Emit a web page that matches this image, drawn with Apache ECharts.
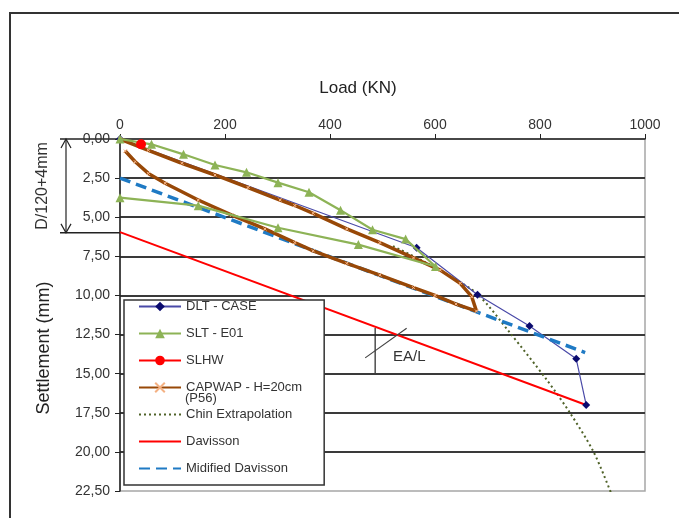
<!DOCTYPE html>
<html lang="en">
<head>
<meta charset="UTF-8">
<title>Load - Settlement</title>
<script src="https://cdn.jsdelivr.net/npm/echarts@6/dist/echarts.min.js"></script>
<style>
    html, body { margin: 0; padding: 0; background: #fff; }
    #chart { width: 679px; height: 518px; }
</style>
</head>
<body>
<div id="chart"></div>
<script>
// [load (KN), settlement (mm)]
let dltCase = [[0, 0], [565, 6.95], [681, 9.95], [780, 11.96], [869, 14.05], [888, 17.0]];
let sltE01 = [[0, 0], [60, 0.34], [121, 0.98], [181, 1.66], [241, 2.13], [301, 2.79], [360, 3.4],
    [420, 4.55], [481, 5.8], [544, 6.4], [601, 8.15], [454, 6.75], [301, 5.67], [149, 4.26], [0, 3.75]];
let slhw = [[40, 0.33]];
let capwap = [[0, 0], [54, 0.72], [118, 1.55], [181, 2.3], [244, 3.1], [305, 3.9], [333, 4.25], [368, 4.75],
    [432, 5.75], [495, 6.62], [559, 7.6], [610, 8.38], [648, 9.23], [670, 10.08], [679, 11.0],
    [640, 10.55], [600, 10.0], [559, 9.5], [495, 8.7], [432, 7.95], [368, 7.15], [333, 6.62],
    [276, 5.75], [213, 4.86], [149, 3.9], [86, 2.83], [54, 2.2], [29, 1.45], [10, 0.77]];
let chin = [[520, 6.85], [577, 7.8], [630, 8.8], [682, 9.95],
    [743, 12.4], [813, 15.4], [857, 17.5], [902, 20.0], [935, 22.6]];
let davisson = [[0, 5.95], [888, 17.0]];
let modDavisson = [[0, 2.5], [886, 13.65]];

// annotations
let dimSettle = 6.0;          // D/120+4mm
let eaVert = [[486, 12.08], [486, 14.96]];
let eaDiag = [[467, 13.99], [546, 12.1]];
let eaText = [551, 13.94];

let font = 'Liberation Sans, Arial, sans-serif';

let chart = echarts.init(document.getElementById('chart'));

let option = {
    animation: false,
    grid: {
        left: 120, top: 139, width: 525, height: 352,
        show: true, borderColor: '#a6a6a6', borderWidth: 1.5
    },
    legend: {
        orient: 'vertical',
        left: 124, top: 300,
        padding: [0, 22, 10, 14],
        itemWidth: 42, itemHeight: 12, itemGap: 14,
        backgroundColor: '#fff',
        borderColor: '#333', borderWidth: 1.5,
        textStyle: {fontFamily: font, fontSize: 13, color: '#333'},
        data: ['DLT - CASE', 'SLT - E01', 'SLHW', 'CAPWAP - H=20cm', 'Chin Extrapolation', 'Davisson', 'Midified Davisson']
    },
    xAxis: {
        type: 'value', position: 'top',
        min: 0, max: 1000, interval: 200,
        axisLine: {show: true, lineStyle: {color: '#222', width: 1.5}},
        axisTick: {show: true, length: 5, lineStyle: {color: '#222'}},
        axisLabel: {fontFamily: font, fontSize: 14, color: '#333', margin: 7,
            formatter: function (v) { return String(v); }},
        splitLine: {show: false}
    },
    yAxis: {
        type: 'value', inverse: true,
        min: 0, max: 22.5, interval: 2.5,
        axisLine: {show: true, lineStyle: {color: '#222', width: 1.5}},
        axisTick: {show: true, length: 5, lineStyle: {color: '#222'}},
        axisLabel: {
            fontFamily: font, fontSize: 14, color: '#333', margin: 10,
            formatter: function (v) { return v.toFixed(2).replace('.', ','); }
        },
        splitLine: {show: true, showMinLine: false, showMaxLine: false, lineStyle: {color: '#3a3a3a', width: 2}}
    },
    series: [
        {
            name: 'DLT - CASE', type: 'line', data: dltCase, z: 3,
            symbol: 'diamond', symbolSize: 8,
            lineStyle: {color: '#4a4aa8', width: 1.2},
            itemStyle: {color: '#0a0a6e'}
        },
        {
            name: 'SLT - E01', type: 'line', data: sltE01, z: 5,
            symbol: 'triangle', symbolSize: 9,
            lineStyle: {color: '#8db356', width: 2.2},
            itemStyle: {color: '#8db356'}
        },
        {
            name: 'SLHW', type: 'line', data: slhw, z: 7,
            symbol: 'circle', symbolSize: 10,
            lineStyle: {color: '#ff0000', width: 4},
            itemStyle: {color: '#ff0000'}
        },
        {
            name: 'CAPWAP - H=20cm', type: 'line', data: capwap, z: 4,
            symbol: 'path://M0,0L10,10M10,0L0,10Z', symbolSize: 3,
            lineStyle: {color: '#984807', width: 3.5},
            itemStyle: {color: '#f4b183', borderColor: '#f4b183', borderWidth: 1}
        },
        {
            name: 'Chin Extrapolation', type: 'line', data: chin, z: 2, smooth: 0.3,
            symbol: 'circle', showSymbol: false,
            lineStyle: {color: '#4f6228', width: 2, type: [2, 3]},
            itemStyle: {color: '#4f6228', opacity: 0}
        },
        {
            name: 'Davisson', type: 'line', data: davisson, z: 2,
            symbol: 'circle', showSymbol: false,
            lineStyle: {color: '#ff0000', width: 2},
            itemStyle: {color: '#ff0000', opacity: 0}
        },
        {
            name: 'Midified Davisson', type: 'line', data: modDavisson, z: 3,
            symbol: 'circle', showSymbol: false,
            lineStyle: {color: '#1f7ac4', width: 3.5, type: [11, 6]},
            itemStyle: {color: '#1f7ac4', opacity: 0}
        }
    ]
};
chart.setOption(option);

function px(p) {
    return chart.convertToPixel({gridIndex: 0}, p);
}

let origin = px([0, 0]);
let dimBottom = px([0, dimSettle]);
let xA = origin[0] - 54;
let ink = '#222';

let graphic = [
    {type: 'rect', shape: {x: 10, y: 13, width: 700, height: 530},
        style: {fill: 'none', stroke: '#333', lineWidth: 2}},
    {type: 'text', x: 358, y: 88,
        style: {text: 'Load (KN)', font: '17px ' + font, fill: '#222', textAlign: 'center', textVerticalAlign: 'middle'}},
    {type: 'text', x: 44, y: 348, rotation: Math.PI / 2,
        style: {text: 'Settlement (mm)', font: '18px ' + font, fill: '#222', textAlign: 'center', textVerticalAlign: 'middle'}},
    {type: 'text', x: 43, y: (origin[1] + dimBottom[1]) / 2, rotation: Math.PI / 2,
        style: {text: 'D/120+4mm', font: '16px ' + font, fill: '#333', textAlign: 'center', textVerticalAlign: 'middle'}},
    {type: 'text', x: 185, y: 398, z: 100,
        style: {text: '(P56)', font: '13px ' + font, fill: '#333', textAlign: 'left', textVerticalAlign: 'middle'}},
    {type: 'line', shape: {x1: origin[0] - 60, y1: origin[1], x2: origin[0], y2: origin[1]},
        style: {stroke: ink, lineWidth: 1.5}},
    {type: 'line', shape: {x1: origin[0] - 60, y1: dimBottom[1], x2: origin[0], y2: dimBottom[1]},
        style: {stroke: ink, lineWidth: 1.5}},
    {type: 'line', shape: {x1: xA, y1: origin[1], x2: xA, y2: dimBottom[1]},
        style: {stroke: ink, lineWidth: 1.2}},
    {type: 'polyline', shape: {points: [[xA - 5, origin[1] + 9], [xA, origin[1]], [xA + 5, origin[1] + 9]]},
        style: {stroke: ink, lineWidth: 1.2, fill: 'none'}},
    {type: 'polyline', shape: {points: [[xA - 5, dimBottom[1] - 9], [xA, dimBottom[1]], [xA + 5, dimBottom[1] - 9]]},
        style: {stroke: ink, lineWidth: 1.2, fill: 'none'}}
];

let v0 = px(eaVert[0]), v1 = px(eaVert[1]);
let d0 = px(eaDiag[0]), d1 = px(eaDiag[1]);
let t = px(eaText);
graphic.push(
    {type: 'line', z: 10, shape: {x1: v0[0], y1: v0[1], x2: v1[0], y2: v1[1]}, style: {stroke: ink, lineWidth: 1.2}},
    {type: 'line', z: 10, shape: {x1: d0[0], y1: d0[1], x2: d1[0], y2: d1[1]}, style: {stroke: '#444', lineWidth: 1.2}},
    {type: 'text', z: 10, x: t[0], y: t[1],
        style: {text: 'EA/L', font: '15px ' + font, fill: '#333', textAlign: 'center', textVerticalAlign: 'middle'}}
);

chart.setOption({graphic: graphic});
</script>
</body>
</html>
